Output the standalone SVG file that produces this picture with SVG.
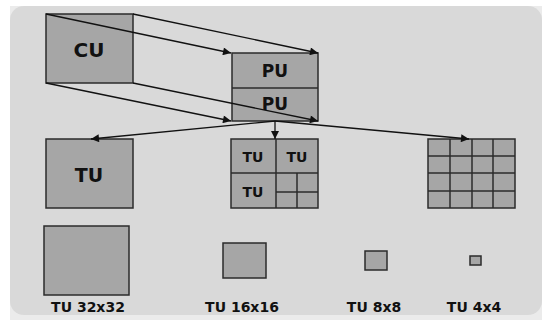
<svg xmlns="http://www.w3.org/2000/svg" width="542" height="320" viewBox="0 0 542 320">
<defs>
<marker id="ah" viewBox="0 0 10 10" refX="10" refY="5" markerWidth="10" markerHeight="8" markerUnits="userSpaceOnUse" orient="auto">
<path d="M0,0 L10,5 L0,10 z" fill="#111"/>
</marker>
</defs>
<style>
.box{fill:#a6a6a6;stroke:#2b2b2b;stroke-width:1.5}
.ln{fill:none;stroke:#2b2b2b;stroke-width:1.5}
.con{fill:none;stroke:#111;stroke-width:1.3;marker-end:url(#ah)}
.t{font-family:"DejaVu Sans",Verdana,sans-serif;font-weight:bold;fill:#111;text-anchor:middle}
</style>
<rect x="0" y="0" width="542" height="320" fill="#ffffff"/>
<rect x="10" y="6" width="532" height="314" fill="#ebebeb"/>
<rect x="10" y="6" width="532" height="309" rx="14" fill="#d9d9d9"/>

<g id="cu">
<rect class="box" x="46" y="14" width="87" height="69"/>
<text class="t" x="89" y="57" font-size="20">CU</text>
</g>
<g id="pu">
<rect class="box" x="232" y="53" width="86" height="68"/>
<line class="ln" x1="232" y1="88" x2="318" y2="88"/>
<text class="t" x="275" y="77" font-size="17">PU</text>
<text class="t" x="275" y="110" font-size="17">PU</text>
</g>
<g id="tu32">
<rect class="box" x="46" y="139" width="87" height="69"/>
<text class="t" x="89" y="182" font-size="19">TU</text>
</g>
<g id="tu16grid">
<rect class="box" x="231" y="139" width="87" height="69"/>
<line class="ln" x1="276" y1="139" x2="276" y2="208"/>
<line class="ln" x1="231" y1="173" x2="318" y2="173"/>
<line class="ln" x1="297" y1="173" x2="297" y2="208"/>
<line class="ln" x1="276" y1="192" x2="318" y2="192"/>
<text class="t" x="253" y="162" font-size="14">TU</text>
<text class="t" x="297" y="162" font-size="14">TU</text>
<text class="t" x="253" y="197" font-size="14">TU</text>
</g>
<g id="tu4grid">
<rect class="box" x="428" y="139" width="87" height="69"/>
<line class="ln" x1="450" y1="139" x2="450" y2="208"/>
<line class="ln" x1="472" y1="139" x2="472" y2="208"/>
<line class="ln" x1="493" y1="139" x2="493" y2="208"/>
<line class="ln" x1="428" y1="156" x2="515" y2="156"/>
<line class="ln" x1="428" y1="173" x2="515" y2="173"/>
<line class="ln" x1="428" y1="191" x2="515" y2="191"/>
</g>
<g id="s32">
<rect class="box" x="44" y="226" width="85" height="69"/>
<text class="t" x="88" y="312" font-size="14">TU 32x32</text>
</g>
<g id="s16">
<rect class="box" x="223" y="243" width="43" height="35"/>
<text class="t" x="242" y="312" font-size="14">TU 16x16</text>
</g>
<g id="s8">
<rect class="box" x="365" y="251" width="22" height="19"/>
<text class="t" x="374" y="312" font-size="14">TU 8x8</text>
</g>
<g id="s4">
<rect class="box" x="470" y="256" width="11" height="9"/>
<text class="t" x="474" y="312" font-size="14">TU 4x4</text>
</g>

<g id="connectors">
<line class="con" x1="46" y1="14" x2="231" y2="53"/>
<line class="con" x1="133" y1="14" x2="318" y2="53"/>
<line class="con" x1="46" y1="83" x2="231" y2="121"/>
<line class="con" x1="133" y1="83" x2="318" y2="121"/>
<line class="con" x1="275" y1="121" x2="91" y2="139"/>
<line class="con" x1="275" y1="121" x2="275" y2="139"/>
<line class="con" x1="275" y1="121" x2="469" y2="139"/>
</g>
</svg>
